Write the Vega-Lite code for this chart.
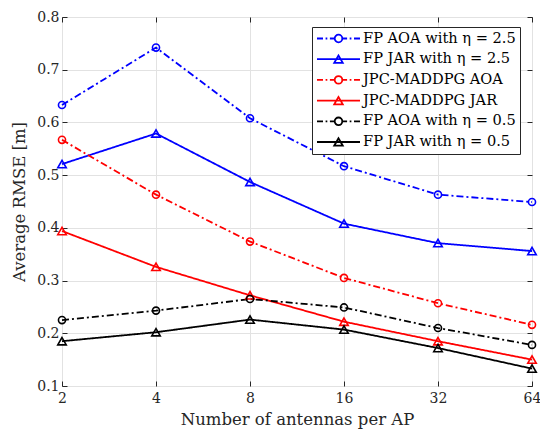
{
  "$schema": "https://vega.github.io/schema/vega-lite/v6.json",
  "width": 470,
  "height": 369,
  "autosize": {"type": "none"},
  "padding": {"left": 62, "top": 17, "right": 8, "bottom": 46},
  "datasets": {
    "rmse": [
      {"series": "FP AOA with η = 2.5", "estimator": "AOA", "antennas": 2, "rmse": 0.633},
      {"series": "FP AOA with η = 2.5", "estimator": "AOA", "antennas": 4, "rmse": 0.742},
      {"series": "FP AOA with η = 2.5", "estimator": "AOA", "antennas": 8, "rmse": 0.608},
      {"series": "FP AOA with η = 2.5", "estimator": "AOA", "antennas": 16, "rmse": 0.517},
      {"series": "FP AOA with η = 2.5", "estimator": "AOA", "antennas": 32, "rmse": 0.463},
      {"series": "FP AOA with η = 2.5", "estimator": "AOA", "antennas": 64, "rmse": 0.449},
      {"series": "FP JAR with η = 2.5", "estimator": "JAR", "antennas": 2, "rmse": 0.521},
      {"series": "FP JAR with η = 2.5", "estimator": "JAR", "antennas": 4, "rmse": 0.579},
      {"series": "FP JAR with η = 2.5", "estimator": "JAR", "antennas": 8, "rmse": 0.487},
      {"series": "FP JAR with η = 2.5", "estimator": "JAR", "antennas": 16, "rmse": 0.408},
      {"series": "FP JAR with η = 2.5", "estimator": "JAR", "antennas": 32, "rmse": 0.371},
      {"series": "FP JAR with η = 2.5", "estimator": "JAR", "antennas": 64, "rmse": 0.356},
      {"series": "JPC-MADDPG AOA", "estimator": "AOA", "antennas": 2, "rmse": 0.567},
      {"series": "JPC-MADDPG AOA", "estimator": "AOA", "antennas": 4, "rmse": 0.463},
      {"series": "JPC-MADDPG AOA", "estimator": "AOA", "antennas": 8, "rmse": 0.374},
      {"series": "JPC-MADDPG AOA", "estimator": "AOA", "antennas": 16, "rmse": 0.305},
      {"series": "JPC-MADDPG AOA", "estimator": "AOA", "antennas": 32, "rmse": 0.257},
      {"series": "JPC-MADDPG AOA", "estimator": "AOA", "antennas": 64, "rmse": 0.216},
      {"series": "JPC-MADDPG JAR", "estimator": "JAR", "antennas": 2, "rmse": 0.394},
      {"series": "JPC-MADDPG JAR", "estimator": "JAR", "antennas": 4, "rmse": 0.326},
      {"series": "JPC-MADDPG JAR", "estimator": "JAR", "antennas": 8, "rmse": 0.272},
      {"series": "JPC-MADDPG JAR", "estimator": "JAR", "antennas": 16, "rmse": 0.222},
      {"series": "JPC-MADDPG JAR", "estimator": "JAR", "antennas": 32, "rmse": 0.185},
      {"series": "JPC-MADDPG JAR", "estimator": "JAR", "antennas": 64, "rmse": 0.150},
      {"series": "FP AOA with η = 0.5", "estimator": "AOA", "antennas": 2, "rmse": 0.225},
      {"series": "FP AOA with η = 0.5", "estimator": "AOA", "antennas": 4, "rmse": 0.243},
      {"series": "FP AOA with η = 0.5", "estimator": "AOA", "antennas": 8, "rmse": 0.265},
      {"series": "FP AOA with η = 0.5", "estimator": "AOA", "antennas": 16, "rmse": 0.249},
      {"series": "FP AOA with η = 0.5", "estimator": "AOA", "antennas": 32, "rmse": 0.210},
      {"series": "FP AOA with η = 0.5", "estimator": "AOA", "antennas": 64, "rmse": 0.178},
      {"series": "FP JAR with η = 0.5", "estimator": "JAR", "antennas": 2, "rmse": 0.185},
      {"series": "FP JAR with η = 0.5", "estimator": "JAR", "antennas": 4, "rmse": 0.202},
      {"series": "FP JAR with η = 0.5", "estimator": "JAR", "antennas": 8, "rmse": 0.226},
      {"series": "FP JAR with η = 0.5", "estimator": "JAR", "antennas": 16, "rmse": 0.207},
      {"series": "FP JAR with η = 0.5", "estimator": "JAR", "antennas": 32, "rmse": 0.172},
      {"series": "FP JAR with η = 0.5", "estimator": "JAR", "antennas": 64, "rmse": 0.133}
    ]
  },
  "data": {"name": "rmse"},
  "config": {
    "font": "DejaVu Serif",
    "view": {"stroke": "#262626", "strokeWidth": 1},
    "axis": {
      "labelFont": "DejaVu Serif",
      "labelFontSize": 14,
      "labelColor": "#262626",
      "labelFlush": false,
      "titleFont": "DejaVu Serif",
      "titleFontSize": 16.5,
      "titleFontWeight": "normal",
      "titleColor": "#262626",
      "tickColor": "#262626",
      "tickSize": -5,
      "tickWidth": 1,
      "domain": false,
      "gridColor": "#e2e2e2",
      "gridWidth": 1,
      "gridOpacity": 1
    },
    "legend": {
      "labelFont": "DejaVu Serif",
      "labelFontSize": 14.6,
      "labelColor": "#000000"
    }
  },
  "layer": [
    {
      "mark": {"type": "line", "strokeWidth": 1.8},
      "encoding": {
        "x": {
          "field": "antennas",
          "type": "quantitative",
          "scale": {"type": "log", "base": 2, "domain": [2, 64], "nice": false},
          "axis": {
            "orient": "bottom",
            "values": [2, 4, 8, 16, 32, 64],
            "format": "d",
            "grid": true,
            "labelPadding": 10,
            "title": "Number of antennas per AP",
            "titlePadding": 6
          }
        },
        "y": {
          "field": "rmse",
          "type": "quantitative",
          "scale": {"domain": [0.1, 0.8], "nice": false, "zero": false},
          "axis": {
            "orient": "left",
            "values": [0.1, 0.2, 0.3, 0.4, 0.5, 0.6, 0.7, 0.8],
            "format": ".1f",
            "grid": true,
            "labelPadding": 8,
            "title": "Average RMSE [m]",
            "titlePadding": 9
          }
        },
        "color": {
          "field": "series",
          "type": "nominal",
          "scale": {
            "domain": ["FP AOA with η = 2.5", "FP JAR with η = 2.5", "JPC-MADDPG AOA", "JPC-MADDPG JAR", "FP AOA with η = 0.5", "FP JAR with η = 0.5"],
            "range": ["#0000ff", "#0000ff", "#ff0000", "#ff0000", "#000000", "#000000"]
          },
          "legend": {
            "title": null,
            "orient": "none",
            "legendX": 250,
            "legendY": 10,
            "direction": "vertical",
            "padding": 4,
            "fillColor": "#ffffff",
            "strokeColor": "#262626",
            "cornerRadius": 0,
            "symbolSize": 1849,
            "symbolStrokeWidth": 1.8,
            "symbolOffset": 0,
            "labelOffset": 2,
            "clipHeight": 15,
            "rowPadding": 4.7,
            "labelLimit": 400,
            "labelBaseline": "middle",
            "encode": {
              "symbols": {
                "update": {
                  "shape": {"signal": "indexof(datum.value, 'AOA') >= 0 ? 'M-1,0L-0.72,0M-0.6,0L-0.52,0M-0.4,0L-0.18,0M0.18,0L0.4,0M0.52,0L0.6,0M0.72,0L1,0M-0.177,0A0.177,0.177,0,1,1,0.177,0A0.177,0.177,0,1,1,-0.177,0Z' : 'M-1,0L1,0M0,-0.171L-0.198,0.171L0.198,0.171Z'"},
                  "fill": {"value": "transparent"},
                  "opacity": {"value": 1}
                }
              }
            }
          }
        },
        "strokeDash": {
          "field": "estimator",
          "type": "nominal",
          "scale": {"domain": ["AOA", "JAR"], "range": [[7, 3, 2, 3], [1, 0]]},
          "legend": null
        }
      }
    },
    {
      "mark": {"type": "point", "filled": false, "strokeWidth": 1.6, "opacity": 1},
      "encoding": {
        "x": {
          "field": "antennas",
          "type": "quantitative",
          "scale": {"type": "log", "base": 2, "domain": [2, 64], "nice": false},
          "axis": {
            "orient": "top",
            "values": [2, 4, 8, 16, 32, 64],
            "labels": false,
            "grid": false,
            "title": null
          }
        },
        "y": {
          "field": "rmse",
          "type": "quantitative",
          "scale": {"domain": [0.1, 0.8], "nice": false, "zero": false},
          "axis": {
            "orient": "right",
            "values": [0.1, 0.2, 0.3, 0.4, 0.5, 0.6, 0.7, 0.8],
            "labels": false,
            "grid": false,
            "title": null
          }
        },
        "color": {"field": "series", "type": "nominal"},
        "shape": {
          "field": "estimator",
          "type": "nominal",
          "scale": {"domain": ["AOA", "JAR"], "range": ["circle", "triangle-up"]},
          "legend": null
        },
        "size": {
          "field": "estimator",
          "type": "nominal",
          "scale": {"domain": ["AOA", "JAR"], "range": [50, 72]},
          "legend": null
        }
      }
    }
  ],
  "resolve": {"axis": {"x": "independent", "y": "independent"}}
}
